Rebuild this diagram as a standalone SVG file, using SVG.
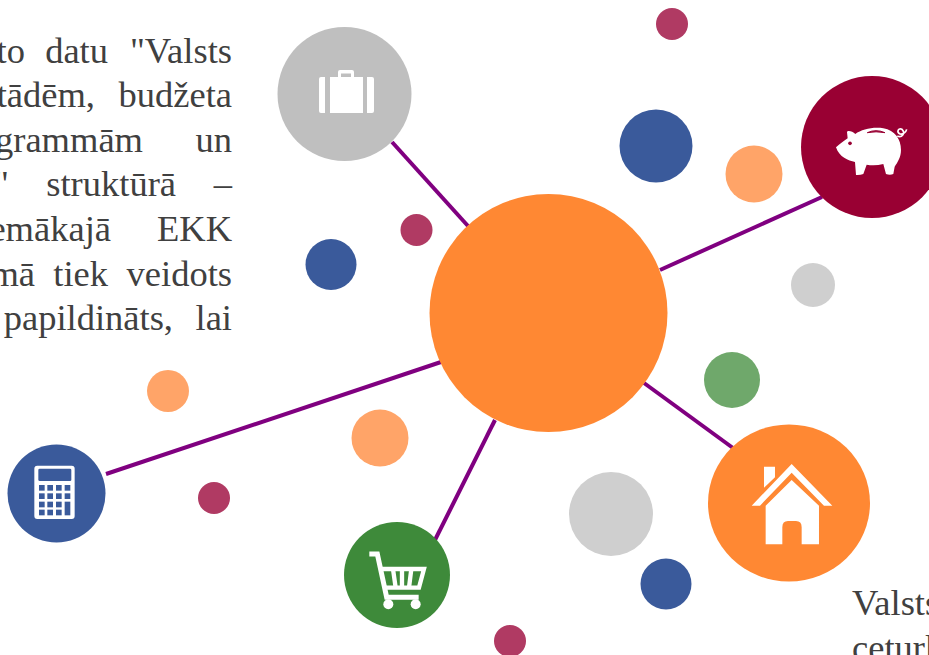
<svg xmlns="http://www.w3.org/2000/svg" width="929" height="655" viewBox="0 0 929 655">
<style>
text{font-family:"Liberation Serif","Times New Roman",serif;font-size:36.500px;fill:#404040}
.e{text-anchor:end}
.link{stroke:#800080;stroke-width:4;fill:none}
.ic{fill:#fff}
.r{fill:#B03A63}.b{fill:#3A5A9B}.o{fill:#FFA468}.g{fill:#CFCFCF}.n{fill:#6FA86B}
</style>
<rect width="929" height="655" fill="#fff"/>
<g id="text-left">
<text class="e" x="25" y="63">to</text><text class="e" x="108" y="63">datu</text><text class="e" x="232" y="63">"Valsts</text>
<text class="e" x="95" y="107">tādēm,</text><text class="e" x="232" y="107">budžeta</text>
<text class="e" x="143" y="152">grammām</text><text class="e" x="232" y="152">un</text>
<text class="e" x="9" y="196">"</text><text class="e" x="176" y="196">struktūrā</text><text class="e" x="232" y="196">–</text>
<text class="e" x="111" y="241">emākajā</text><text class="e" x="232" y="241">EKK</text>
<text class="e" x="35" y="286">mā</text><text class="e" x="108" y="286">tiek</text><text class="e" x="232" y="286">veidots</text>
<text class="e" x="173" y="330">papildināts,</text><text class="e" x="232" y="330">lai</text>
</g>
<g id="text-right">
<text x="852" y="615">Valsts</text>
<text x="852" y="660">ceturk</text>
</g>
<g id="connectors">
<line class="link" x1="392" y1="142" x2="468" y2="226"/>
<line class="link" x1="660" y1="270" x2="822" y2="197"/>
<line class="link" x1="644" y1="383" x2="733" y2="448"/>
<line class="link" x1="495" y1="420" x2="435" y2="540"/>
<line class="link" x1="441" y1="362" x2="106" y2="474"/>
</g>
<g id="dots">
<circle class="r" cx="672" cy="24" r="16"/>
<circle class="r" cx="416.500" cy="230" r="16"/>
<circle class="r" cx="214" cy="498" r="16"/>
<circle class="r" cx="510" cy="641" r="16"/>
<circle class="b" cx="656" cy="146" r="36.500"/>
<circle class="b" cx="331" cy="264.500" r="25.500"/>
<circle class="b" cx="666" cy="584" r="25.500"/>
<circle class="o" cx="754" cy="174" r="28.500"/>
<circle class="o" cx="168" cy="391" r="21"/>
<circle class="o" cx="380" cy="438" r="28.500"/>
<circle class="g" cx="813" cy="285" r="22"/>
<circle class="g" cx="611" cy="514" r="42"/>
<circle class="n" cx="732" cy="380" r="28"/>
</g>
<g id="node-center"><circle cx="548.500" cy="313" r="119" fill="#FF8833"/></g>
<g id="node-briefcase">
<circle cx="344.500" cy="94" r="67" fill="#BFBFBF"/>
<path class="ic" d="M338 77V72Q338 70 340 70H352Q354 70 354 72V77H351V73.500H341V77Z"/>
<path class="ic" d="M325 77V113H321Q319 113 319 111V79Q319 77 321 77ZM330 77H363V113H330ZM367 77H372Q374 77 374 79V111Q374 113 372 113H367Z"/>
</g>
<g id="node-piggy">
<circle cx="872" cy="147" r="71" fill="#990033"/>
<g transform="translate(800 70) scale(.3333)">
<path class="ic" d="M108 232C118 222 130 215 143 205L141 186C143 180 158 184 166 192C185 178 220 170 250 175C285 181 303 208 303 240C303 262 292 278 284 290L280 312Q270 316 258 312L250 282Q225 288 200 284L190 312Q180 316 168 315L165 276C145 272 118 262 108 232Z"/>
<path d="M202 188Q228 176 255 188Q228 183 202 188Z" fill="#990033" stroke="#990033" stroke-width="3"/>
<circle cx="150" cy="220" r="5.500" fill="#990033"/>
<path d="M292 198C305 205 318 190 306 178C296 172 288 186 300 192C310 194 318 186 320 178" fill="none" stroke="#fff" stroke-width="5"/>
</g>
</g>
<g id="node-house">
<ellipse cx="789" cy="503" rx="81" ry="78.500" fill="#FF8833"/>
<g transform="translate(700 420) scale(.3333)">
<path class="ic" d="M155 257L275 132L397 257H372L275 158L180 257Z"/>
<path class="ic" d="M192 140H225V172L192 203Z"/>
<path class="ic" d="M197 257L275 180L357 257V373H305V322Q305 303 288 303H264Q247 303 247 322V373H197Z"/>
</g>
</g>
<g id="node-cart">
<circle cx="397" cy="575" r="53" fill="#3E8A3A"/>
<g transform="translate(340 520) scale(.3333)">
<path d="M88 102H112L140 232H236" fill="none" stroke="#fff" stroke-width="15"/>
<path d="M122 147H252L237 203H135" fill="none" stroke="#fff" stroke-width="13"/>
<path d="M159 147L167 203M186 147V203M214 147L207 203" fill="none" stroke="#fff" stroke-width="13"/>
<circle class="ic" cx="145" cy="253" r="15"/>
<circle class="ic" cx="227" cy="253" r="15"/>
</g>
</g>
<g id="node-calculator">
<circle cx="56.500" cy="493.500" r="49" fill="#3A5A9B"/>
<g transform="translate(0 440) scale(.3333)">
<rect class="ic" x="103" y="77" width="121" height="160" rx="9"/>
<g fill="#3A5A9B">
<rect x="115" y="86" width="99" height="37" rx="4"/>
<rect x="117" y="135" width="17" height="17"/><rect x="142" y="135" width="17" height="17"/><rect x="168" y="135" width="17" height="17"/><rect x="194" y="135" width="17" height="17"/>
<rect x="117" y="160" width="17" height="17"/><rect x="142" y="160" width="17" height="17"/><rect x="168" y="160" width="17" height="17"/><rect x="194" y="160" width="17" height="17"/>
<rect x="117" y="185" width="17" height="17"/><rect x="142" y="185" width="17" height="17"/><rect x="168" y="185" width="17" height="17"/><rect x="194" y="185" width="17" height="41"/>
<rect x="117" y="209" width="17" height="17"/><rect x="142" y="209" width="17" height="17"/><rect x="168" y="209" width="17" height="17"/>
</g>
</g>
</g>
</svg>
